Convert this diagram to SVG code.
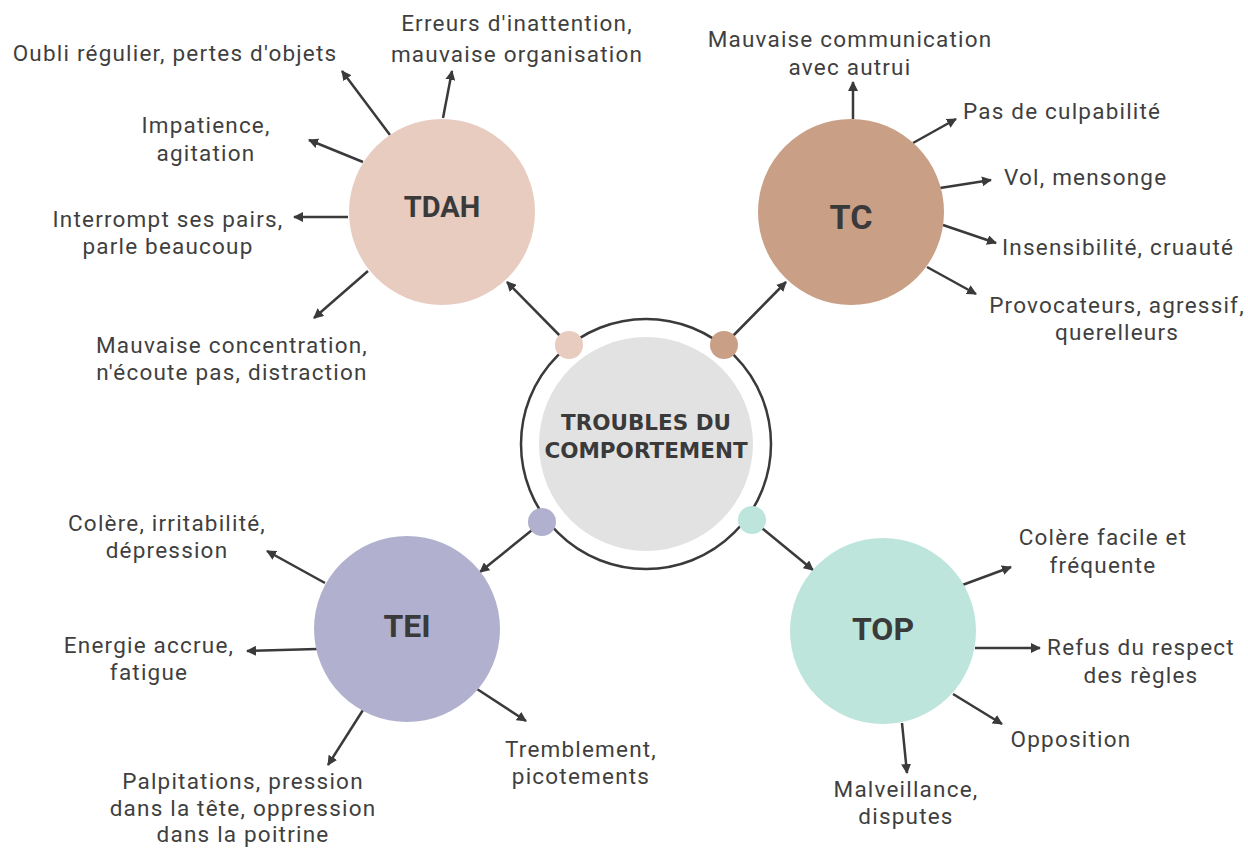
<svg xmlns="http://www.w3.org/2000/svg" width="1248" height="848" viewBox="0 0 1248 848">
<style>
.lbl{font-family:Roboto,"Liberation Sans",sans-serif;font-size:22.5px;letter-spacing:1.2px;fill:#3f3f3f;text-anchor:middle}
.lbl-l{text-anchor:start}
.node{font-family:Roboto,"Liberation Sans",sans-serif;font-weight:bold;fill:#3a3a3a;text-anchor:middle}
.title{font-family:"DejaVu Sans","Liberation Sans",sans-serif;font-weight:bold;fill:#3a3a3a;text-anchor:middle;font-size:21.5px}
.arr{stroke:#3a3a3a;stroke-width:2.5;fill:none;marker-end:url(#ah)}
</style>
<defs>
<marker id="ah" viewBox="0 0 10 10" refX="9" refY="5" markerWidth="4" markerHeight="4" orient="auto" markerUnits="strokeWidth">
<path d="M0,0 L10,5 L0,10 Z" fill="#3a3a3a"/>
</marker>
</defs>
<rect width="1248" height="848" fill="#ffffff"/>

<g id="connectors">
<line class="arr" x1="569" y1="345" x2="507" y2="282"/>
<line class="arr" x1="724" y1="345" x2="786" y2="282"/>
<line class="arr" x1="542" y1="522" x2="480" y2="572"/>
<line class="arr" x1="752" y1="520" x2="813" y2="570"/>
<!-- TDAH -->
<line class="arr" x1="390" y1="135" x2="342" y2="71"/>
<line class="arr" x1="443" y1="118" x2="452" y2="71"/>
<line class="arr" x1="363" y1="162" x2="309" y2="140"/>
<line class="arr" x1="348" y1="217" x2="294" y2="217"/>
<line class="arr" x1="368" y1="271" x2="314" y2="318"/>
<!-- TC -->
<line class="arr" x1="853" y1="119" x2="853" y2="82"/>
<line class="arr" x1="913" y1="143" x2="956" y2="119"/>
<line class="arr" x1="940" y1="188" x2="991" y2="180"/>
<line class="arr" x1="943" y1="225" x2="996" y2="243"/>
<line class="arr" x1="927" y1="267" x2="976" y2="294"/>
<!-- TEI -->
<line class="arr" x1="325" y1="583" x2="267" y2="551"/>
<line class="arr" x1="317" y1="649" x2="247" y2="651"/>
<line class="arr" x1="363" y1="710" x2="328" y2="765"/>
<line class="arr" x1="477" y1="689" x2="526" y2="721"/>
<!-- TOP -->
<line class="arr" x1="957" y1="587" x2="1011" y2="567"/>
<line class="arr" x1="975" y1="648" x2="1040" y2="648"/>
<line class="arr" x1="953" y1="694" x2="1002" y2="724"/>
<line class="arr" x1="902" y1="723" x2="907" y2="773"/>
</g>

<g id="center">
<circle cx="646" cy="444" r="125" fill="#ffffff" stroke="#3a3a3a" stroke-width="2.5"/>
<circle cx="646" cy="444" r="107" fill="#e2e2e2"/>
<circle cx="569" cy="345" r="14" fill="#e8ccc0"/>
<circle cx="724" cy="345" r="14" fill="#c99f85"/>
<circle cx="542" cy="522" r="14" fill="#b1b1cf"/>
<circle cx="752" cy="520" r="14" fill="#bde5dc"/>
<text class="title" x="646" y="430">TROUBLES DU</text>
<text class="title" x="646" y="458">COMPORTEMENT</text>
</g>

<g id="tdah">
<circle cx="442" cy="212" r="93" fill="#e8ccc0"/>
<text class="node" x="442" y="217" font-size="29">TDAH</text>
</g>
<g id="tc">
<circle cx="851" cy="212" r="93" fill="#c99f85"/>
<text class="node" x="851" y="229" font-size="34">TC</text>
</g>
<g id="tei">
<circle cx="407" cy="629" r="93" fill="#b1b1cf"/>
<text class="node" x="407" y="637" font-size="32">TEI</text>
</g>
<g id="top">
<circle cx="883" cy="631" r="93" fill="#bde5dc"/>
<text class="node" x="883" y="640" font-size="32">TOP</text>
</g>

<g id="labels-tdah">
<text class="lbl" x="175" y="61">Oubli régulier, pertes d'objets</text>
<text class="lbl" x="517" y="31">Erreurs d'inattention,</text>
<text class="lbl" x="517" y="62">mauvaise organisation</text>
<text class="lbl" x="206" y="133">Impatience,</text>
<text class="lbl" x="206" y="161">agitation</text>
<text class="lbl" x="168" y="227">Interrompt ses pairs,</text>
<text class="lbl" x="168" y="254">parle beaucoup</text>
<text class="lbl" x="232" y="353">Mauvaise concentration,</text>
<text class="lbl" x="232" y="380">n'écoute pas, distraction</text>
</g>
<g id="labels-tc">
<text class="lbl" x="850" y="47">Mauvaise communication</text>
<text class="lbl" x="850" y="75">avec autrui</text>
<text class="lbl lbl-l" x="963" y="119">Pas de culpabilité</text>
<text class="lbl lbl-l" x="1004" y="185">Vol, mensonge</text>
<text class="lbl lbl-l" x="1002" y="255">Insensibilité, cruauté</text>
<text class="lbl" x="1117" y="313">Provocateurs, agressif,</text>
<text class="lbl" x="1117" y="340">querelleurs</text>
</g>
<g id="labels-tei">
<text class="lbl" x="167" y="531">Colère, irritabilité,</text>
<text class="lbl" x="167" y="558">dépression</text>
<text class="lbl" x="149" y="653">Energie accrue,</text>
<text class="lbl" x="149" y="680">fatigue</text>
<text class="lbl" x="243" y="789">Palpitations, pression</text>
<text class="lbl" x="243" y="816">dans la tête, oppression</text>
<text class="lbl" x="243" y="842">dans la poitrine</text>
<text class="lbl" x="581" y="757">Tremblement,</text>
<text class="lbl" x="581" y="784">picotements</text>
</g>
<g id="labels-top">
<text class="lbl" x="1103" y="545">Colère facile et</text>
<text class="lbl" x="1103" y="573">fréquente</text>
<text class="lbl" x="1141" y="655">Refus du respect</text>
<text class="lbl" x="1141" y="683">des règles</text>
<text class="lbl" x="1071" y="747">Opposition</text>
<text class="lbl" x="906" y="797">Malveillance,</text>
<text class="lbl" x="906" y="824">disputes</text>
</g>
</svg>
